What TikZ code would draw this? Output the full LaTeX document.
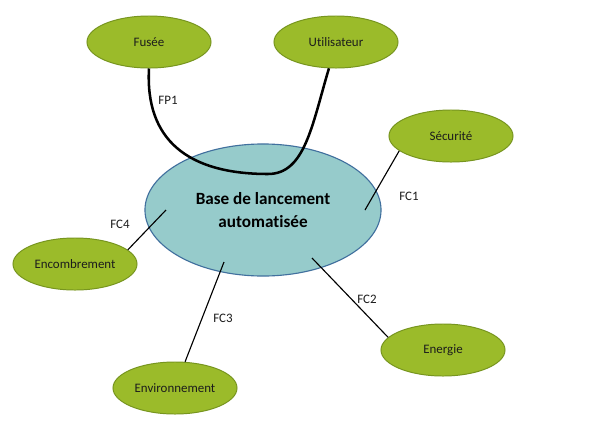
\documentclass[tikz,border=0pt]{standalone}
\usepackage{fontspec}
\setmainfont{Carlito}[Ligatures=NoCommon]
\usetikzlibrary{shapes.geometric}
\definecolor{vert}{HTML}{9BBB2A}
\definecolor{vertfonce}{HTML}{77951F}
\definecolor{cyan}{HTML}{96CBCB}
\definecolor{bleu}{HTML}{41709E}
\definecolor{encre}{HTML}{1C1C1C}
\tikzset{
  ovale/.style={ellipse,draw=vertfonce,fill=vert,line width=0.7pt,
    minimum width=3.1cm,minimum height=1.3cm,inner sep=0pt,
    text=encre,font=\fontsize{9.2}{11}\selectfont},
  lien/.style={black,line width=0.8pt},
  etiquette/.style={text=encre,font=\fontsize{9.2}{11}\selectfont,inner sep=0pt}
}

\begin{document}
\begin{tikzpicture}[x=0.025cm,y=-0.025cm]
    \useasboundingbox[fill=white] (0,0) rectangle (600,422);
    % ---- Système central ----
    \node[ellipse,draw=bleu,fill=cyan,line width=0.8pt,
          minimum width=5.9cm,minimum height=3.3cm,inner sep=0pt,
          align=center,font=\fontsize{12.2}{17}\selectfont\bfseries]
          (base) at (263,210) {Base de lancement\\automatisée};

    % ---- Éléments du milieu extérieur ----
    \node[ovale] (fusee) at (149,42)  {Fusée};
    \node[ovale] (util)  at (336,42)  {Utilisateur};
    \node[ovale] (secu)  at (451,136) {Sécurité};
    \node[ovale] (enco)  at (75,264)  {Encombrement};
    \node[ovale] (envi)  at (175,388) {Environnement};
    \node[ovale] (ener)  at (443,350) {Energie};

    % ---- Points d'attache dans la base ----
    \coordinate (bas) at (268,174);
    \coordinate (c1) at (365,210);
    \coordinate (c2) at (312,258);
    \coordinate (c3) at (224,262);
    \coordinate (c4) at (166,210);

    % ---- Fonction principale ----
    \draw[black,line width=1.8pt]
        (fusee.south) .. controls (145,140) and (188,174) .. (bas)
        .. controls (305,174) and (312,125) .. (util.-105);

    % ---- Fonctions contraintes ----
    \draw[lien] (secu.196) -- (c1);
    \draw[lien] (ener.167) -- (c2);
    \draw[lien] (envi.69) -- (c3);
    \draw[lien] (enco.15) -- (c4);

    % ---- Etiquettes ----
    \node[etiquette] (lfp1) at (168,100) {FP1};
    \node[etiquette] (lfc1) at (409,196) {FC1};
    \node[etiquette] (lfc2) at (367,299) {FC2};
    \node[etiquette] (lfc3) at (223,318) {FC3};
    \node[etiquette] (lfc4) at (120,224) {FC4};

\end{tikzpicture}
\end{document}
